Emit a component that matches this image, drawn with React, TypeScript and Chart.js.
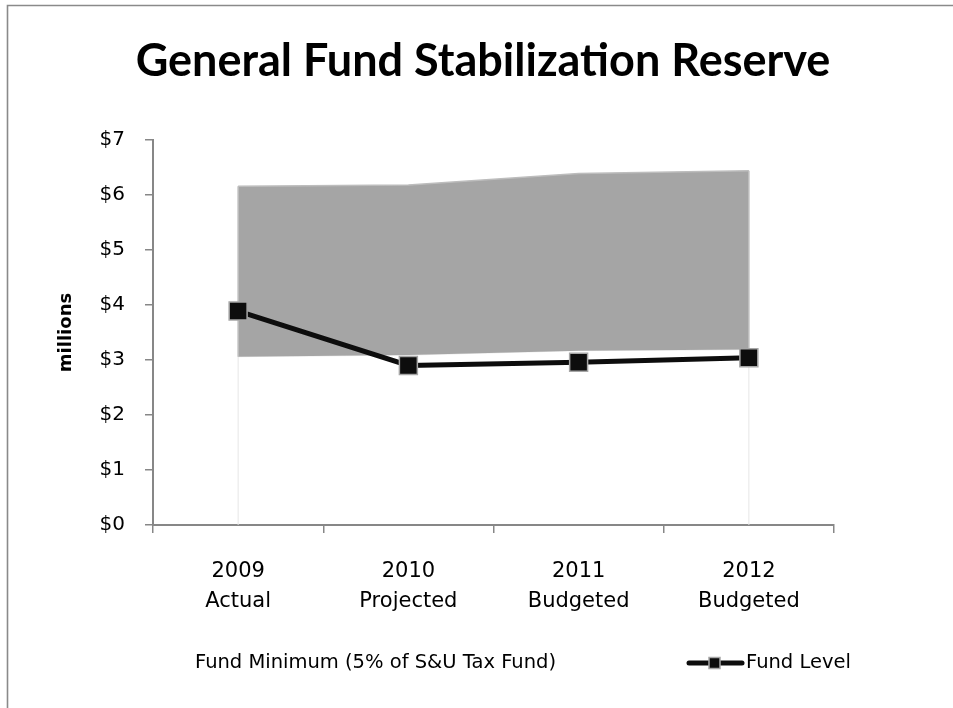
import React, { useEffect, useRef } from "react";
import { Chart, registerables } from "chart.js";

Chart.register(...registerables);

const categories = [
  ["2009", "Actual"],
  ["2010", "Projected"],
  ["2011", "Budgeted"],
  ["2012", "Budgeted"],
];
const fundMinimum = [3.06, 3.09, 3.17, 3.19];
const fundMaximum = [6.16, 6.18, 6.39, 6.44];
const fundLevel = [3.89, 2.9, 2.96, 3.04];
const yTickValues = [0, 1, 2, 3, 4, 5, 6, 7];
const titleText = "General Fund Stabilization Reserve";
const yAxisTitle = "millions";
const legendMinimumText = "Fund Minimum (5% of S&U Tax Fund)";
const legendLevelText = "Fund Level";

const AXIS = "#878787";
const TEXT_FONT = "DejaVu Sans";

const framePlugin = {
  id: "frame",
  beforeDraw(chart: any) {
    const ctx = chart.ctx;
    ctx.save();
    ctx.fillStyle = "#ffffff";
    ctx.fillRect(0, 0, chart.width, chart.height);
    ctx.strokeStyle = "#8a8a8a";
    ctx.lineWidth = 1.6;
    ctx.beginPath();
    ctx.moveTo(7.5, chart.height);
    ctx.lineTo(7.5, 5.5);
    ctx.lineTo(chart.width, 5.5);
    ctx.stroke();
    // chart title
    ctx.font = `bold 45px "Lato"`;
    ctx.fillStyle = "#000";
    ctx.textAlign = "center";
    ctx.textBaseline = "middle";
    ctx.fillText(titleText, 483, 61);
    ctx.restore();
  },
};

// vertical edges of the stacked areas (Excel-style area outlines)
const areaEdgesPlugin = {
  id: "areaEdges",
  beforeDatasetsDraw(chart: any) {
    const ctx = chart.ctx;
    const minMeta = chart.getDatasetMeta(0);
    const maxMeta = chart.getDatasetMeta(1);
    const bottom = chart.scales.y.getPixelForValue(0);
    ctx.save();
    const pts = [0, minMeta.data.length - 1];
    ctx.strokeStyle = "#e6e6e6";
    ctx.lineWidth = 1;
    for (const i of pts) {
      const p = minMeta.data[i];
      ctx.beginPath();
      ctx.moveTo(p.x, p.y);
      ctx.lineTo(p.x, bottom);
      ctx.stroke();
    }
    ctx.restore();
  },
  afterDatasetDraw(chart: any, args: any) {
    if (args.index !== 1) return;
    const ctx = chart.ctx;
    const minMeta = chart.getDatasetMeta(0);
    const maxMeta = chart.getDatasetMeta(1);
    ctx.save();
    ctx.strokeStyle = "#bdbdbd";
    ctx.lineWidth = 1.5;
    for (const i of [0, maxMeta.data.length - 1]) {
      const a = maxMeta.data[i];
      const b = minMeta.data[i];
      ctx.beginPath();
      ctx.moveTo(a.x, a.y);
      ctx.lineTo(b.x, b.y);
      ctx.stroke();
    }
    ctx.restore();
  },
};

const legendPlugin = {
  id: "customLegend",
  afterDraw(chart: any) {
    const ctx = chart.ctx;
    const y = 663;
    ctx.save();
    ctx.font = `19.5px "${TEXT_FONT}"`;
    ctx.fillStyle = "#000";
    ctx.textBaseline = "middle";
    ctx.textAlign = "left";
    ctx.fillText(legendMinimumText, 195, y);
    // Fund Level symbol
    ctx.strokeStyle = "#0d0d0d";
    ctx.lineWidth = 5;
    ctx.lineCap = "round";
    ctx.beginPath();
    ctx.moveTo(689, y);
    ctx.lineTo(742, y);
    ctx.stroke();
    ctx.fillStyle = "#0d0d0d";
    ctx.fillRect(709, y - 5.5, 11, 11);
    ctx.strokeStyle = "#a6a6a6";
    ctx.lineWidth = 1.5;
    ctx.strokeRect(709, y - 5.5, 11, 11);
    ctx.fillStyle = "#000";
    ctx.fillText(legendLevelText, 746, y);
    ctx.restore();
  },
};

export default function App() {
  const ref = useRef<HTMLCanvasElement | null>(null);

  useEffect(() => {
    document.body.style.margin = "0";
    const canvas = ref.current;
    if (!canvas) return;
    const chart = new Chart(canvas, {
      type: "line",
      data: {
        labels: categories,
        datasets: [
          {
            label: legendMinimumText,
            data: fundMinimum,
            fill: false,
            borderColor: "#ebebeb",
            borderWidth: 1,
            pointRadius: 0,
            tension: 0,
            order: 3,
          },
          {
            label: "Fund Maximum",
            data: fundMaximum,
            fill: "-1",
            backgroundColor: "#a5a5a5",
            borderColor: "#bdbdbd",
            borderWidth: 1.5,
            pointRadius: 0,
            tension: 0,
            order: 2,
          },
          {
            label: legendLevelText,
            data: fundLevel,
            fill: false,
            borderColor: "#0d0d0d",
            borderWidth: 5,
            pointStyle: "rect",
            pointRadius: 12.7,
            pointBackgroundColor: "#0d0d0d",
            pointBorderColor: "#a6a6a6",
            pointBorderWidth: 1.5,
            tension: 0,
            order: 1,
          },
        ],
      },
      options: {
        animation: false,
        responsive: false,
        maintainAspectRatio: false,
        events: [],
        layout: { padding: { left: 50, right: 119, top: 140, bottom: 0 } },
        plugins: {
          legend: { display: false },
          tooltip: { enabled: false },
          title: { display: false },
        },
        scales: {
          x: {
            type: "category",
            offset: true,
            z: 1,
            grid: {
              offset: true,
              drawOnChartArea: false,
              drawTicks: true,
              tickLength: 8,
              color: AXIS,
              lineWidth: 1.5,
            },
            border: { color: AXIS, width: 2 },
            ticks: {
              color: "#000",
              font: { family: TEXT_FONT, size: 21, lineHeight: 1.45 },
              padding: 23,
              maxRotation: 0,
              autoSkip: false,
            },
            afterFit: (s: any) => {
              s.height = 183;
            },
          },
          y: {
            type: "linear",
            min: 0,
            max: 7,
            z: 1,
            afterBuildTicks: (s: any) => {
              s.ticks = yTickValues.map((v) => ({ value: v }));
            },
            grid: {
              drawOnChartArea: false,
              drawTicks: true,
              tickLength: 8,
              color: AXIS,
              lineWidth: 1.5,
            },
            border: { color: AXIS, width: 2 },
            ticks: {
              color: "#000",
              font: { family: TEXT_FONT, size: 20 },
              padding: 20,
              callback: (v: any) => "$" + v,
            },
            title: {
              display: true,
              text: yAxisTitle,
              color: "#000",
              font: { family: TEXT_FONT, weight: "bold", size: 18 },
              padding: { top: 6, bottom: 0 },
            },
            afterFit: (s: any) => {
              s.width = 103;
            },
          },
        },
      },
      plugins: [framePlugin, areaEdgesPlugin, legendPlugin],
    });
    return () => chart.destroy();
  }, []);

  return (
    <div style={{ width: 953, height: 708, position: "relative" }}>
      <canvas ref={ref} width={953} height={708} style={{ display: "block", width: 953, height: 708 }} />
    </div>
  );
}
